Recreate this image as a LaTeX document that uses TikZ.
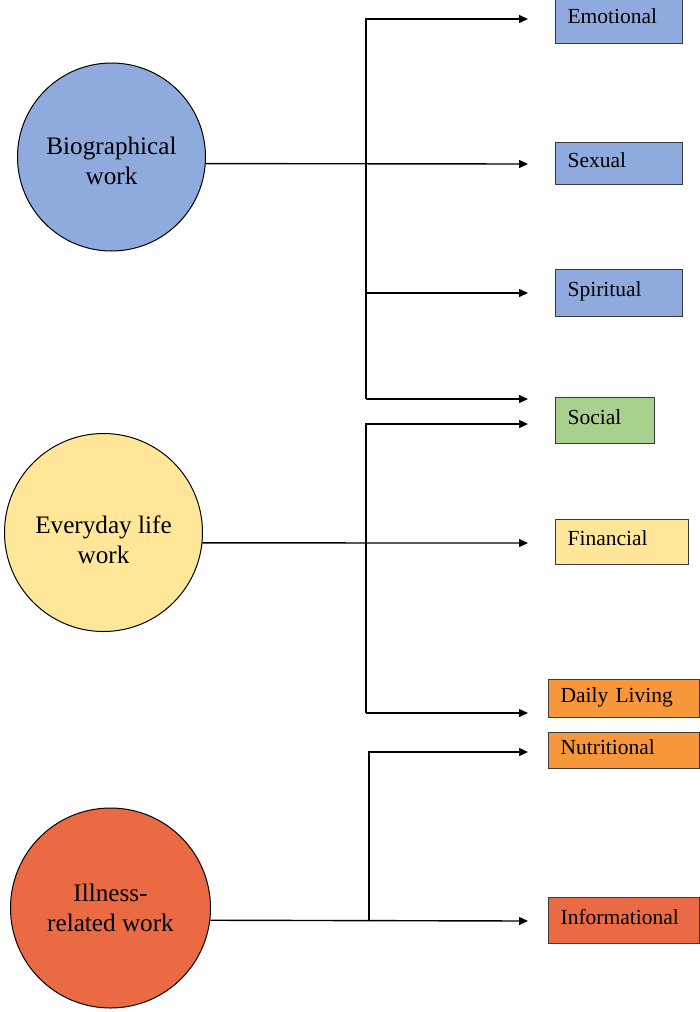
\documentclass[tikz,border=0pt]{standalone}
\usepackage{fontspec}
\setmainfont{Liberation Serif}
\usetikzlibrary{arrows.meta}
\definecolor{bioblue}{HTML}{8FAADC}
\definecolor{dayyellow}{HTML}{FFE699}
\definecolor{socgreen}{HTML}{A9D18E}
\definecolor{livorange}{HTML}{F7963A}
\definecolor{illred}{HTML}{EA6A44}
\definecolor{edge}{HTML}{3A3A3A}
\tikzset{
  work/.style={circle, draw=black, line width=1pt, inner sep=0pt},
  worktext/.style={align=center, inner sep=0pt, font=\fontsize{25.2}{29.5}\selectfont},
  cat/.style={rectangle, draw=edge, line width=1.2pt, anchor=north west, align=left,
    inner xsep=12pt, inner ysep=0pt, text height=15pt, text depth=8pt,
    font=\fontsize{21.5}{24}\selectfont},
  link/.style={line width=1.4pt, line join=miter},
  arr/.style={link, -{Triangle[length=9pt,width=8pt]}}
}
\begin{document}
\begin{tikzpicture}[x=1pt,y=-1pt]
\useasboundingbox (0,0) rectangle (700,1012);
\clip (0,0) rectangle (700,1012);

% three kinds of work
\node[work, fill=bioblue, minimum size=188pt,
  label={[worktext, yshift=-4pt]center:{Biographical\\work}}] (bio) at (111.5,157) {};
\node[work, fill=dayyellow, minimum size=198pt,
  label={[worktext, yshift=-7pt]center:{Everyday life\\work}}] (day) at (103.5,532.5) {};
\node[work, fill=illred, minimum size=200pt,
  label={[worktext]center:{Illness-\\related work}}] (ill) at (110.5,908) {};

% categories
\node[cat, fill=bioblue, text width=103pt, minimum height=47pt] (emo) at (555,-4) {Emotional};
\node[cat, fill=bioblue, text width=103pt, minimum height=42pt] (sex) at (555,142) {Sexual};
\node[cat, fill=bioblue, text width=103pt, minimum height=47pt] (spi) at (555,269) {Spiritual};
\node[cat, fill=socgreen, text width=75pt, minimum height=46pt] (soc) at (555,397) {Social};
\node[cat, fill=dayyellow, text width=109pt, minimum height=45pt] (fin) at (555,519) {Financial};
\node[cat, fill=livorange, text width=127pt, minimum height=38pt] (dl) at (548,679) {Daily Living};
\node[cat, fill=livorange, text width=127pt, minimum height=36pt] (nut) at (548,732) {Nutritional};
\node[cat, fill=illred, text width=127pt, minimum height=46pt] (inf) at (548,897) {Informational};

% arrow tips in front of the categories
\coordinate (tEmo) at (528,19);
\coordinate (tSex) at (528,164);
\coordinate (tSpi) at (528,293);
\coordinate (tSocA) at (528,399);
\coordinate (tSocB) at (528,424);
\coordinate (tFin) at (528,543);
\coordinate (tDl) at (528,713);
\coordinate (tNut) at (528,752);
\coordinate (tInf) at (528,921);

% trunks
\coordinate (bTop) at (366,19);
\coordinate (bSpi) at (366,293);
\coordinate (bBot) at (366,399);
\coordinate (dTop) at (366,424);
\coordinate (dBot) at (366,713);
\coordinate (iTop) at (369,752);
\coordinate (iBot) at (369,921);

% biographical work
\draw[arr] (bio.-4.3) -- (tSex);
\draw[arr] (bBot) -- (bTop) -- (tEmo);
\draw[arr] (bSpi) -- (tSpi);
\draw[arr] (bBot) -- (tSocA);

% everyday life work
\draw[arr] (day.-6.1) -- (tFin);
\draw[arr] (dBot) -- (dTop) -- (tSocB);
\draw[arr] (dBot) -- (tDl);

% illness-related work
\draw[arr] (ill.-7.5) -- (tInf);
\draw[arr] (iBot) -- (iTop) -- (tNut);
\end{tikzpicture}
\end{document}
